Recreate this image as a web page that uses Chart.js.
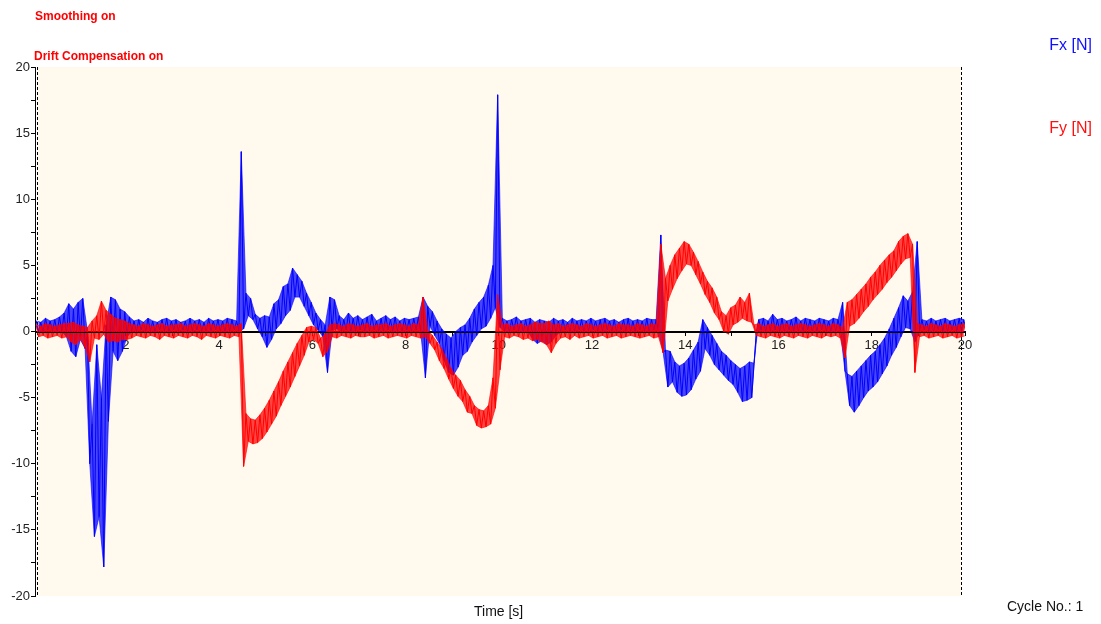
<!DOCTYPE html>
<html>
<head>
<meta charset="utf-8">
<script src="https://cdn.jsdelivr.net/npm/chart.js@4.4.1/dist/chart.umd.min.js"></script>
<style>
html,body{margin:0;padding:0;background:#ffffff;}
#wrap{position:relative;width:1101px;height:624px;}
</style>
</head>
<body>
<div id="wrap"><canvas id="c" width="1101" height="624"></canvas></div>
<script>
// Sample grid: one high/low pair of readings every 0.1 s (0.1 ... 20.0 s)
const sampleStep = 0.1;
const sampleCount = 200;

// Fx [N] – upper and lower extent of the noisy trace in each 0.1 s slot
const fxHigh = [
  0.8, 0.7, 1.0, 0.8, 0.9, 1.1, 1.4, 2.1, 1.7, 2.2,
  2.5, 0.0, -7.0, -1.0, -5.0, 0.5, 2.6, 2.4, 1.7, 1.5,
  1.1, 0.8, 0.9, 0.7, 1.0, 0.8, 0.7, 0.9, 1.0, 0.8,
  0.9, 0.7, 0.8, 1.0, 0.8, 0.9, 0.7, 1.0, 0.8, 0.9,
  0.8, 1.0, 0.9, 0.8, 13.6, 2.9, 2.5, 1.3, 1.0, 1.2,
  1.1, 2.1, 2.4, 3.4, 3.6, 4.8, 4.3, 3.8, 2.9, 2.2,
  1.4, 0.9, 0.5, 2.6, 2.4, 1.2, 0.9, 1.4, 1.0, 1.2,
  0.9, 1.1, 1.3, 0.8, 1.0, 1.2, 0.9, 1.1, 0.8, 1.0,
  0.9, 1.0, 1.1, 2.6, 1.9, 1.5, 0.8, 0.2, -0.2, -0.5,
  0.0, 0.3, 0.5, 1.0, 1.7, 2.2, 2.6, 3.5, 5.0, 17.9,
  1.0, 0.8, 0.9, 1.1, 0.8, 0.9, 1.0, 0.7, 0.9, 0.8,
  0.7, 1.0, 0.8, 0.9, 0.7, 1.0, 0.8, 0.9, 0.8, 1.0,
  0.8, 0.9, 1.0, 0.8, 0.9, 0.7, 0.9, 1.0, 0.8, 0.9,
  0.8, 1.0, 0.9, 0.9, 7.3, -1.4, -1.5, -2.3, -2.6, -2.4,
  -2.0, -1.4, -0.8, 0.9, 0.3, -0.3, -0.9, -1.5, -1.8, -2.2,
  -2.5, -2.8, -2.6, -2.3, -2.4, 0.9, 1.0, 0.8, 1.3, 0.9,
  1.0, 0.8, 0.9, 1.1, 0.8, 1.0, 0.9, 0.8, 1.0, 0.9,
  0.8, 1.0, 0.9, 2.2, -3.2, -3.4, -3.0, -2.6, -2.2, -1.8,
  -1.5, -1.0, -0.5, 0.2, 1.0, 1.8, 2.7, 2.3, 3.0, 6.8,
  0.9, 0.8, 1.0, 0.8, 0.9, 1.0, 0.8, 0.9, 1.0, 0.9
];
const fxLow = [
  0.0, -0.1, 0.1, 0.0, -0.1, 0.0, -0.4, -1.5, -1.9, -0.6,
  -1.3, -10.0, -15.5, -14.0, -17.8, -6.8, -1.5, -2.2, -1.5, -0.4,
  0.0, -0.1, 0.1, 0.0, 0.0, -0.1, 0.1, 0.0, -0.1, 0.1,
  0.0, 0.1, -0.1, 0.0, 0.1, 0.0, -0.1, 0.0, 0.1, 0.0,
  -0.1, 0.0, 0.1, 0.0, 0.2, 1.2, 0.9, 0.2, -0.4, -1.2,
  -0.6, 0.2, 0.6, 1.2, 1.6, 2.6, 2.6, 1.9, 1.2, 0.5,
  0.1, -0.4, -3.1, 0.1, 0.2, 0.0, 0.1, -0.1, 0.0, 0.1,
  0.0, -0.1, 0.1, 0.0, -0.1, 0.1, 0.0, 0.0, -0.1, 0.1,
  0.0, 0.1, -0.1, -3.5, 0.4, -0.3, -0.9, -2.2, -3.1, -3.3,
  -2.7, -1.8, -1.5, -0.8, -0.3, 0.2, 0.4, 1.0, 1.8, 0.3,
  0.0, -0.1, 0.1, 0.0, -0.1, 0.0, -0.6, -0.9, -0.7, -1.0,
  -0.8, -0.3, 0.0, 0.1, -0.1, 0.0, 0.1, -0.1, 0.0, 0.1,
  0.0, -0.1, 0.1, 0.0, -0.1, 0.1, 0.0, -0.1, 0.0, 0.1,
  0.0, -0.1, 0.1, 0.0, -1.6, -4.2, -3.8, -4.6, -4.9, -4.8,
  -4.4, -3.6, -3.0, -1.3, -1.8, -2.5, -2.9, -3.3, -3.7, -4.0,
  -4.6, -5.3, -5.2, -5.0, 0.0, 0.1, -0.1, 0.0, 0.1, 0.0,
  -0.1, 0.1, 0.0, -0.1, 0.0, 0.1, -0.1, 0.0, 0.1, 0.0,
  0.0, -0.1, 0.1, -3.0, -5.6, -6.1, -5.6, -5.0, -4.5, -4.2,
  -3.8, -3.2, -2.6, -1.8, -1.2, -0.4, 0.3, 0.2, -0.8, 0.0,
  0.1, 0.0, -0.1, 0.1, 0.0, -0.1, 0.1, 0.0, -0.1, 0.0
];

// Fy [N]
const fyHigh = [
  0.5, 0.4, 0.6, 0.5, 0.4, 0.5, 0.6, 0.6, 0.7, 0.5,
  0.4, 0.3, 0.8, 1.2, 2.3, 1.6, 1.3, 1.0, 0.9, 0.8,
  0.6, 0.5, 0.4, 0.6, 0.5, 0.4, 0.5, 0.6, 0.4, 0.5,
  0.5, 0.6, 0.4, 0.5, 0.6, 0.5, 0.4, 0.6, 0.5, 0.4,
  0.5, 0.6, 0.5, 0.4, 0.6, -6.2, -6.6, -6.7, -6.3, -5.8,
  -5.2, -4.5, -3.8, -3.0, -2.3, -1.6, -0.9, -0.3, 0.3, 0.4,
  0.3, -0.5, -0.2, 0.5, 0.6, 0.5, 0.4, 0.6, 0.5, 0.4,
  0.5, 0.6, 0.4, 0.5, 0.5, 0.6, 0.4, 0.5, 0.6, 0.5,
  0.4, 0.6, 0.5, 2.6, 0.1, -0.3, -0.8, -1.3, -2.0, -2.8,
  -3.3, -3.7, -4.4, -4.9, -5.6, -5.9, -6.0, -5.6, -3.5, 2.8,
  0.5, 0.6, 0.4, 0.5, 0.6, 0.4, 0.5, 0.7, 0.6, 0.6,
  0.8, 0.5, 0.6, 0.4, 0.5, 0.6, 0.5, 0.4, 0.6, 0.5,
  0.4, 0.5, 0.6, 0.5, 0.4, 0.6, 0.5, 0.5, 0.4, 0.6,
  0.5, 0.4, 0.6, 0.5, 6.6, 4.0, 5.0, 5.8, 6.3, 6.8,
  6.6, 6.0, 5.3, 4.5, 3.8, 3.3, 2.6, 1.5, 1.2, 1.8,
  2.0, 2.6, 2.2, 2.9, 0.5, 0.6, 0.4, 0.5, 0.6, 0.4,
  0.5, 0.6, 0.4, 0.5, 0.6, 0.5, 0.4, 0.5, 0.6, 0.5,
  0.4, 0.6, 0.5, 0.3, 2.2, 2.4, 2.8, 3.2, 3.6, 4.1,
  4.5, 5.0, 5.4, 5.8, 6.1, 6.8, 7.2, 7.4, 6.6, 0.6,
  0.5, 0.4, 0.6, 0.5, 0.4, 0.6, 0.5, 0.4, 0.5, 0.6
];
const fyLow = [
  -0.4, -0.3, -0.5, -0.4, -0.3, -0.5, -0.4, -0.8, -1.0, -0.6,
  -1.2, -2.3, -0.5, -0.6, -0.2, -0.8, -0.7, -0.8, -0.6, -0.6,
  -0.5, -0.3, -0.4, -0.5, -0.3, -0.4, -0.6, -0.3, -0.4, -0.5,
  -0.3, -0.4, -0.5, -0.3, -0.4, -0.6, -0.3, -0.4, -0.5, -0.3,
  -0.4, -0.5, -0.3, -0.4, -10.2, -8.3, -8.5, -8.4, -8.1, -7.6,
  -7.0, -6.4, -5.6, -4.9, -4.2, -3.4, -2.6, -1.8, -0.8, -0.6,
  -0.9, -1.9, -1.5, -0.4, -0.5, -0.3, -0.4, -0.5, -0.3, -0.4,
  -0.4, -0.3, -0.5, -0.4, -0.3, -0.5, -0.4, -0.3, -0.4, -0.5,
  -0.3, -0.4, -0.5, -0.4, -0.9, -1.4, -2.2, -2.8, -3.6, -4.3,
  -4.9, -5.3, -6.1, -6.2, -7.1, -7.3, -7.2, -7.0, -5.8, -2.9,
  -0.4, -0.5, -0.3, -0.4, -0.6, -0.5, -0.7, -0.6, -0.8, -1.0,
  -1.6, -0.9, -0.5, -0.4, -0.6, -0.3, -0.5, -0.4, -0.3, -0.5,
  -0.4, -0.3, -0.5, -0.4, -0.3, -0.5, -0.4, -0.3, -0.4, -0.5,
  -0.4, -0.3, -0.5, -0.4, -1.6, 2.3, 3.2, 4.0, 4.6, 5.1,
  5.0, 4.3, 3.6, 2.8, 2.2, 1.4, 0.9, 0.0, -0.2, 0.5,
  0.7, 1.0, 0.8, 0.7, -0.3, -0.4, -0.5, -0.3, -0.4, -0.5,
  -0.3, -0.4, -0.5, -0.3, -0.4, -0.5, -0.3, -0.4, -0.5, -0.3,
  -0.4, -0.3, -0.5, -2.0, 0.4, 0.6, 1.0, 1.5, 1.9, 2.4,
  2.8, 3.2, 3.7, 4.1, 4.6, 5.1, 5.5, 5.6, -3.1, -0.4,
  -0.3, -0.5, -0.4, -0.3, -0.5, -0.4, -0.3, -0.5, -0.4, -0.3
];

const xTickLabels = [2, 4, 6, 8, 10, 12, 14, 16, 18, 20];
const yTickLabels = [-20, -15, -10, -5, 0, 5, 10, 15, 20];

const sampleTimes = Array.from({length: sampleCount}, (_, i) => Math.round((i + 1) * sampleStep * 10) / 10);

// the noisy trace: alternate between the high and low reading of each slot
function trace(high, low) {
  const pts = [];
  for (let i = 0; i < sampleTimes.length; i++) {
    const t = sampleTimes[i];
    pts.push({x: t - sampleStep / 4, y: high[i]});
    pts.push({x: t + sampleStep / 4, y: low[i]});
  }
  return pts;
}
// one edge of the trace's band
function edge(values, shift) {
  return sampleTimes.map((t, i) => ({x: t + shift * sampleStep / 4, y: values[i]}));
}

const FONT = '"Liberation Sans", Arial, sans-serif';

const decor = {
  id: 'decor',
  beforeDraw(chart) {
    const {ctx, chartArea, scales} = chart;
    const x1 = scales.x.getPixelForValue(0.1);
    const x2 = scales.x.getPixelForValue(19.92);
    ctx.save();
    ctx.fillStyle = '#fff9ee';
    ctx.fillRect(x1, chartArea.top, x2 - x1, chartArea.bottom - chartArea.top);
    ctx.restore();
  },
  beforeDatasetsDraw(chart) {
    const {ctx, chartArea, scales} = chart;
    ctx.save();
    ctx.strokeStyle = '#000';
    ctx.lineWidth = 1;
    ctx.setLineDash([3, 2]);
    [0.1, 19.92].forEach(v => {
      const px = Math.round(scales.x.getPixelForValue(v)) + 0.5;
      ctx.beginPath();
      ctx.moveTo(px, chartArea.top);
      ctx.lineTo(px, chartArea.bottom);
      ctx.stroke();
    });
    ctx.restore();
  },
  afterDatasetsDraw(chart) {
    const {ctx, chartArea, scales} = chart;
    const py = Math.round(scales.y.getPixelForValue(0)) + 0.5;
    ctx.save();
    ctx.strokeStyle = '#000';
    ctx.lineWidth = 1;
    ctx.beginPath();
    ctx.moveTo(chartArea.left, py);
    ctx.lineTo(chartArea.right, py);
    ctx.stroke();
    ctx.restore();
  },
  afterDraw(chart) {
    const {ctx} = chart;
    ctx.save();
    ctx.textBaseline = 'alphabetic';
    ctx.textAlign = 'left';
    ctx.fillStyle = '#ff0000';
    ctx.font = 'bold 12px ' + FONT;
    ctx.fillText('Smoothing on', 35, 20);
    ctx.fillText('Drift Compensation on', 34, 60);
    ctx.font = '16px ' + FONT;
    ctx.textAlign = 'right';
    ctx.fillStyle = '#1010ff';
    ctx.fillText('Fx [N]', 1092, 50);
    ctx.fillStyle = '#ff1010';
    ctx.fillText('Fy [N]', 1092, 133);
    ctx.textAlign = 'left';
    ctx.fillStyle = '#111';
    ctx.font = '14px ' + FONT;
    ctx.fillText('Time [s]', 474, 616);
    ctx.fillText('Cycle No.: 1', 1007, 611);
    ctx.restore();
  }
};

const common = {borderWidth: 1, pointRadius: 0, tension: 0};

new Chart(document.getElementById('c'), {
  type: 'line',
  data: {
    datasets: [
      // Fy drawn on top (lowest order)
      {label: 'Fy [N]', data: trace(fyHigh, fyLow), borderColor: '#ff0000', fill: false, order: 0, ...common},
      {label: 'Fy high', data: edge(fyHigh, -1), borderColor: 'rgba(255,0,0,0.6)', backgroundColor: 'rgba(255,0,0,0.72)', fill: 2, order: 1, ...common},
      {label: 'Fy low', data: edge(fyLow, 1), borderColor: 'rgba(255,0,0,0.6)', fill: false, order: 1, ...common},
      {label: 'Fx [N]', data: trace(fxHigh, fxLow), borderColor: '#0000ff', fill: false, order: 2, ...common},
      {label: 'Fx high', data: edge(fxHigh, -1), borderColor: 'rgba(0,0,255,0.6)', backgroundColor: 'rgba(0,0,255,0.72)', fill: 5, order: 3, ...common},
      {label: 'Fx low', data: edge(fxLow, 1), borderColor: 'rgba(0,0,255,0.6)', fill: false, order: 3, ...common}
    ]
  },
  options: {
    responsive: false,
    animation: false,
    devicePixelRatio: 1,
    parsing: false,
    normalized: true,
    layout: {padding: {left: 0, right: 136, top: 67, bottom: 28}},
    plugins: {legend: {display: false}, tooltip: {enabled: false}, title: {display: false}, filler: {propagate: false}},
    scales: {
      x: {
        type: 'linear',
        position: {y: 0},
        min: 0.05,
        max: 20,
        grid: {drawOnChartArea: false, drawTicks: true, tickLength: 4, color: '#000'},
        border: {display: true, color: '#000'},
        ticks: {
          stepSize: 1,
          includeBounds: false,
          autoSkip: false,
          maxRotation: 0,
          padding: 2,
          color: '#222',
          font: {family: FONT, size: 13},
          callback: v => xTickLabels.includes(v) ? String(v) : ''
        }
      },
      y: {
        type: 'linear',
        position: 'left',
        min: -20,
        max: 20,
        afterFit(scale) { scale.width = 35; },
        grid: {drawOnChartArea: false, drawTicks: true, tickLength: 4, color: '#000'},
        border: {display: true, color: '#000'},
        ticks: {
          stepSize: 2.5,
          autoSkip: false,
          padding: 1,
          color: '#222',
          font: {family: FONT, size: 13},
          callback: v => yTickLabels.includes(v) ? String(v) : ''
        }
      }
    }
  },
  plugins: [decor]
});
</script>
</body>
</html>
